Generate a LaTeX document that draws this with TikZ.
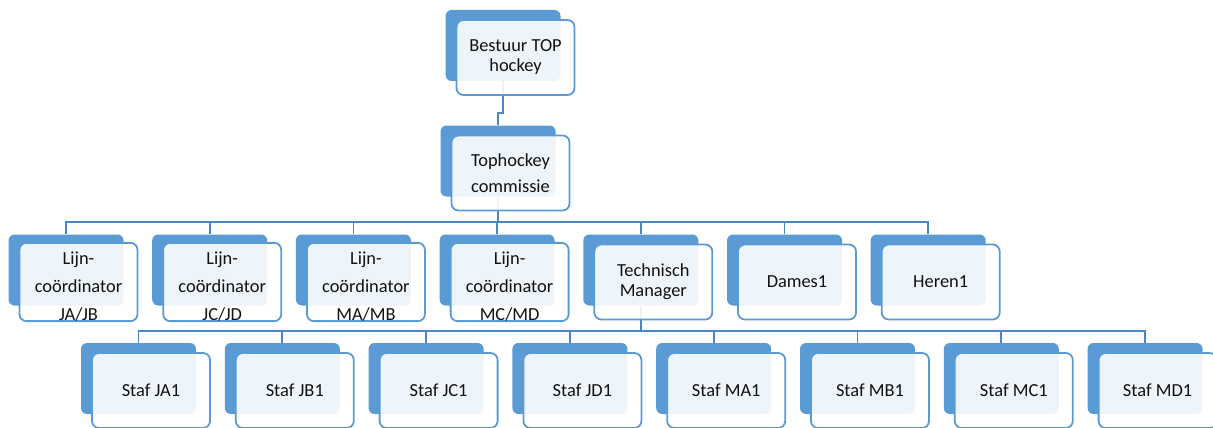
\documentclass[tikz,border=0pt]{standalone}
\usepackage{fontspec}
\setmainfont{Carlito}
\usetikzlibrary{backgrounds}
\definecolor{accent}{HTML}{5B9BD5}
\definecolor{linkc}{HTML}{4A87C7}
\definecolor{txt}{HTML}{111111}
\tikzset{
  backbox/.style={rectangle, rounded corners=6pt, fill=accent, draw=none,
    minimum width=115pt, minimum height=71pt, inner sep=0pt},
  frontbox/.style={rectangle, rounded corners=7pt, fill=white, fill opacity=0.9, text opacity=1,
    draw=accent, line width=1.8pt, minimum width=118pt, minimum height=75pt, inner sep=0pt,
    align=center, text=txt, font=\fontsize{18.4}{20}\selectfont},
  wide/.style={font=\fontsize{18.4}{28}\selectfont},
  mid/.style={font=\fontsize{18.4}{26}\selectfont},
  link/.style={draw=linkc, line width=1.8pt},
}
\newcommand{\upstrut}{\rule{0pt}{21.5pt}}
\begin{document}
\begin{tikzpicture}[x=1pt,y=-1pt]
\useasboundingbox (0,0) rectangle (1213,428);
% level 0 and 1
\node[backbox] (b0) at (503,45.5) {};
\node[frontbox] (f0) at (515.5,57.5) {Bestuur TOP\\hockey};
\node[backbox] (b1) at (498,161) {};
\node[frontbox,mid] (f1) at (510.5,173) {Tophockey\\commissie};
% level 2
\foreach \i/\n/\t/\s in {0/L1/{\upstrut Lijn-\\coördinator\\JA/JB}/wide,1/L2/{\upstrut Lijn-\\coördinator\\JC/JD}/wide,2/L3/{\upstrut Lijn-\\coördinator\\MA/MB}/wide,3/L4/{\upstrut Lijn-\\coördinator\\MC/MD}/wide,4/TM/{Technisch\\Manager}/frontbox,5/D1/{Dames1}/frontbox,6/H1/{Heren1}/frontbox}{
  \node[backbox] (b\n) at (66+\i*143.7,270) {};
  \node[frontbox,\s] (f\n) at (78.5+\i*143.7,282) {\t};
}
% level 3
\foreach \i/\n/\t in {0/SJA/{Staf JA1},1/SJB/{Staf JB1},2/SJC/{Staf JC1},3/SJD/{Staf JD1},4/SMA/{Staf MA1},5/SMB/{Staf MB1},6/SMC/{Staf MC1},7/SMD/{Staf MD1}}{
  \node[backbox] (b\n) at (138.5+\i*143.8,378.5) {};
  \node[frontbox] (f\n) at (151+\i*143.8,390.5) {\t};
}
\begin{scope}[on background layer]
  \draw[link] (b0.south) -- ++(0,32) -| (b1.north);
  \foreach \n in {L1,L2,L3,L4,TM,D1,H1}{
    \draw[link] (b1.south) -- ++(0,25) -| (b\n.north);
  }
  \foreach \n in {SJA,SJB,SJC,SJD,SMA,SMB,SMC,SMD}{
    \draw[link] (bTM.south) -- ++(0,25.5) -| (b\n.north);
  }
\end{scope}
\end{tikzpicture}
\end{document}
